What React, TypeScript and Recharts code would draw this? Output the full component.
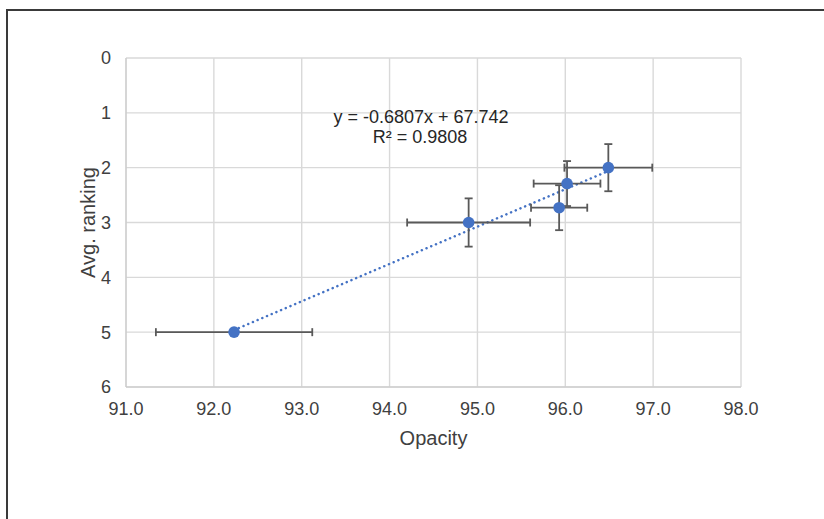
import React from 'react';
import {
  ScatterChart,
  Scatter,
  XAxis,
  YAxis,
  CartesianGrid,
  ErrorBar,
  ReferenceLine,
} from 'recharts';

// values
const opacity = [92.23, 94.9, 95.93, 96.02, 96.49];
const avgRanking = [5.0, 3.0, 2.73, 2.29, 2.0];
const opacityErr = [0.89, 0.7, 0.32, 0.38, 0.5];
const rankingErr = [0, 0.44, 0.41, 0.41, 0.43];

const xTicks = [91, 92, 93, 94, 95, 96, 97, 98];
const yTicks = [0, 1, 2, 3, 4, 5, 6];

// linear trendline as printed on the chart
const slope = -0.6807;
const intercept = 67.742;
const rSquared = 0.9808;

const FONT = '"Liberation Sans", Arial, sans-serif';
const BLUE = '#4472C4';
const TEXT = '#404040';

const data = opacity.map((x, i) => ({
  x,
  y: avgRanking[i],
  ex: opacityErr[i],
  ey: rankingErr[i],
}));

const xMin = Math.min(...opacity);
const xMax = Math.max(...opacity);
const trend = [
  { x: xMin, y: slope * xMin + intercept },
  { x: xMax, y: slope * xMax + intercept },
];

const Dot = (props: any) => <circle cx={props.cx} cy={props.cy} r={5.8} fill={BLUE} />;

const YTitle = (props: any) => {
  const { viewBox } = props;
  const cx = viewBox.x + 88;
  const cy = viewBox.y + viewBox.height / 2;
  return (
    <text
      x={cx}
      y={cy}
      transform={`rotate(-90, ${cx}, ${cy})`}
      textAnchor="middle"
      dominantBaseline="central"
      fill={TEXT}
      fontSize={20}
      fontFamily={FONT}
    >
      Avg. ranking
    </text>
  );
};

const App: React.FC = () => {
  return (
    <div style={{ position: 'absolute', left: 0, top: 0, width: 824, height: 519, overflow: 'hidden', background: '#fff' }}>
      <div
        style={{
          position: 'absolute',
          left: 6,
          top: 9,
          width: 900,
          height: 600,
          border: '2px solid #3a3a3a',
        }}
      />
      <div style={{ position: 'absolute', left: 0, top: 0 }}>
        <ScatterChart width={824} height={519} margin={{ top: 58, right: 83, bottom: 72, left: 0 }}>
          <CartesianGrid stroke="#d9d9d9" strokeWidth={1.4} />
          <XAxis
            type="number"
            dataKey="x"
            domain={[91, 98]}
            ticks={xTicks}
            tickFormatter={(v: number) => v.toFixed(1)}
            height={60}
            tickSize={0}
            tickMargin={15}
            stroke="#c8c8c8"
            tick={{ fill: TEXT, fontSize: 18, fontFamily: FONT }}
            label={{ value: 'Opacity', position: 'insideTop', offset: 44, fill: TEXT, fontSize: 20, fontFamily: FONT }}
          />
          <YAxis
            type="number"
            dataKey="y"
            domain={[0, 6]}
            ticks={yTicks}
            reversed
            width={126}
            tickSize={0}
            tickMargin={15}
            stroke="#c8c8c8"
            tick={{ fill: TEXT, fontSize: 18, fontFamily: FONT }}
            label={<YTitle />}
          />
          <ReferenceLine
            segment={trend}
            stroke={BLUE}
            strokeWidth={2.5}
            strokeDasharray="0.1 5"
            strokeLinecap="round"
          />
          <Scatter data={data} shape={<Dot />} isAnimationActive={false}>
            <ErrorBar dataKey="ex" direction="x" width={4} stroke="#595959" strokeWidth={1.8} />
            <ErrorBar dataKey="ey" direction="y" width={4} stroke="#595959" strokeWidth={1.8} />
          </Scatter>
        </ScatterChart>
      </div>
      <div
        style={{
          position: 'absolute',
          left: 421,
          top: 117,
          transform: 'translate(-50%, -50%)',
          whiteSpace: 'nowrap',
          fontFamily: FONT,
          fontSize: 18,
          lineHeight: 1,
          color: '#262626',
        }}
      >
        y = {slope}x + {intercept}
      </div>
      <div
        style={{
          position: 'absolute',
          left: 420,
          top: 137,
          transform: 'translate(-50%, -50%)',
          whiteSpace: 'nowrap',
          fontFamily: FONT,
          fontSize: 18,
          lineHeight: 1,
          color: '#262626',
        }}
      >
        R² = {rSquared}
      </div>
    </div>
  );
};

export default App;
